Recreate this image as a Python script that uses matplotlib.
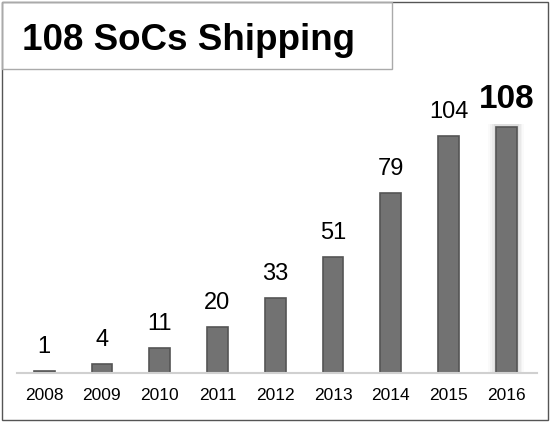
import matplotlib.pyplot as plt
from matplotlib.patches import Rectangle

years = ['2008', '2009', '2010', '2011', '2012', '2013', '2014', '2015', '2016']
socs = [1, 4, 11, 20, 33, 51, 79, 104, 108]

plt.rcParams['font.family'] = ['Liberation Sans', 'DejaVu Sans']

fig = plt.figure(figsize=(5.51, 4.24), dpi=100)
ax = fig.add_axes([17/551, 51/424, 520/551, 293/424])

x = list(range(len(years)))

# soft glow behind the last bar
for w, a in [(0.62, 0.04), (0.55, 0.06), (0.49, 0.08), (0.43, 0.10)]:
    ax.bar(x[-1], socs[-1] + 2, width=w, bottom=-1, color='#808080', alpha=a, linewidth=0, zorder=1)

ax.bar(x, socs, width=0.36, color='#727272', edgecolor='#555555', linewidth=1.2, zorder=2)

for i, v in enumerate(socs):
    if i == len(socs) - 1:
        ax.annotate(str(v), (x[i], v), xytext=(0, 13.5), textcoords='offset points',
                    ha='center', va='baseline', fontsize=24, fontweight='bold')
    else:
        ax.annotate(str(v), (x[i], v), xytext=(0, 13), textcoords='offset points',
                    ha='center', va='baseline', fontsize=17)

ax.set_xlim(-0.47, 8.53)
ax.set_ylim(0, 128.5)
ax.set_xticks(x)
ax.set_xticklabels(years, fontsize=12.5)
ax.tick_params(axis='x', length=0, pad=11)
ax.set_yticks([])
for s in ['top', 'right', 'left']:
    ax.spines[s].set_visible(False)
ax.spines['bottom'].set_color('#d0d0d0')
ax.spines['bottom'].set_linewidth(1.5)

# outer frame and title box
fig.patches.append(Rectangle((2/551, 4/424), 546/551, 418/424, transform=fig.transFigure,
                             fill=False, edgecolor='#555555', linewidth=1))
fig.patches.append(Rectangle((2/551, 355/424), 390/551, 67/424, transform=fig.transFigure,
                             fill=False, edgecolor='#aaaaaa', linewidth=1))
fig.text(22/551, 384/424, '108 SoCs Shipping', fontsize=26.5, fontweight='bold', va='center', ha='left')

plt.savefig('out.png', dpi=100)
plt.close()
